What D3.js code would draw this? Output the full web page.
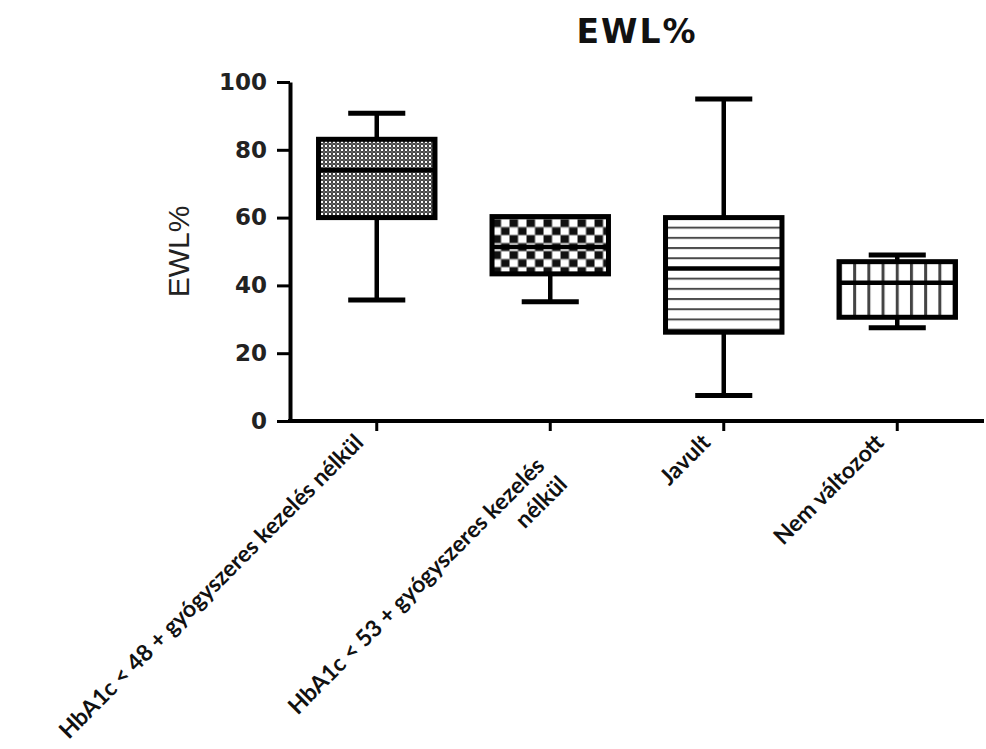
<!DOCTYPE html>
<html>
<head>
<meta charset="utf-8">
<script src="https://cdn.jsdelivr.net/npm/d3@7"></script>
<style>
  html, body { margin: 0; padding: 0; background: #fff; }
  svg { display: block; }
</style>
</head>
<body>
<svg id="chart" width="986" height="749"></svg>
<script>
// ---------- data ----------
const categories = [
  "HbA1c < 48 + gyógyszeres kezelés nélkül",
  "HbA1c < 53 + gyógyszeres kezelés nélkül",
  "Javult",
  "Nem változott"
];
const categoryLabelLines = [
  ["HbA1c < 48 + gyógyszeres kezelés nélkül"],
  ["HbA1c < 53 + gyógyszeres kezelés", "nélkül"],
  ["Javult"],
  ["Nem változott"]
];
const whiskerLow  = [35.7, 35.2, 7.5, 27.5];
const q1Values    = [60.0, 43.4, 26.2, 30.6];
const medianVals  = [74.0, 51.3, 45.0, 40.8];
const q3Values    = [83.1, 60.3, 60.0, 47.0];
const whiskerHigh = [90.8, 60.3, 95.0, 49.0];
const yTickValues = [0, 20, 40, 60, 80, 100];
const chartTitle = "EWL%";
const yAxisTitle = "EWL%";

// ---------- layout ----------
const svg = d3.select("#chart");
const plotLeft = 290, plotRight = 984, plotTop = 82, plotBottom = 421;

const y = d3.scaleLinear().domain([0, 100]).range([plotBottom, plotTop]);
const x = d3.scaleBand().domain(categories).range([plotLeft, plotRight])
  .paddingInner(0.3).paddingOuter(0.15);

// ---------- patterns ----------
const defs = svg.append("defs");
const p1 = defs.append("pattern").attr("id", "pat0").attr("patternUnits", "userSpaceOnUse")
  .attr("width", 4).attr("height", 4);
p1.append("rect").attr("width", 4).attr("height", 4).attr("fill", "#333");
p1.append("circle").attr("cx", 2).attr("cy", 2).attr("r", 1.25).attr("fill", "#ffffff");
p1.append("circle").attr("cx", 0).attr("cy", 0).attr("r", 0.7).attr("fill", "#b0b0b0");
p1.append("circle").attr("cx", 4).attr("cy", 4).attr("r", 0.7).attr("fill", "#b0b0b0");
p1.append("circle").attr("cx", 4).attr("cy", 0).attr("r", 0.7).attr("fill", "#b0b0b0");
p1.append("circle").attr("cx", 0).attr("cy", 4).attr("r", 0.7).attr("fill", "#b0b0b0");
const p2 = defs.append("pattern").attr("id", "pat1").attr("patternUnits", "userSpaceOnUse")
  .attr("width", 17).attr("height", 16).attr("x", x(categories[1]) + 3).attr("y", y(q3Values[1]) + 3);
p2.append("rect").attr("width", 17).attr("height", 16).attr("fill", "#ffffff");
p2.append("rect").attr("x", 0).attr("y", 0).attr("width", 8.5).attr("height", 8).attr("fill", "#111");
p2.append("rect").attr("x", 8.5).attr("y", 8).attr("width", 8.5).attr("height", 8).attr("fill", "#111");
p2.append("rect").attr("x", 0).attr("y", 7).attr("width", 17).attr("height", 1.2).attr("fill", "#888");
p2.append("rect").attr("x", 0).attr("y", 15).attr("width", 17).attr("height", 1.2).attr("fill", "#888");
const p3 = defs.append("pattern").attr("id", "pat2").attr("patternUnits", "userSpaceOnUse")
  .attr("width", 20).attr("height", 10.2).attr("y", y(medianVals[2]) - 1);
p3.append("rect").attr("width", 20).attr("height", 10.2).attr("fill", "#fff");
p3.append("rect").attr("x", 0).attr("y", 0).attr("width", 20).attr("height", 2).attr("fill", "#4a4a4a");
const c4 = x(categories[3]) + x.bandwidth() / 2;
const p4 = defs.append("pattern").attr("id", "pat3").attr("patternUnits", "userSpaceOnUse")
  .attr("width", 14.2).attr("height", 20).attr("x", c4 - 1.5);
p4.append("rect").attr("width", 14.2).attr("height", 20).attr("fill", "#fff");
p4.append("rect").attr("x", 0).attr("y", 0).attr("width", 3).attr("height", 20).attr("fill", "#444");

// ---------- boxes ----------
const boxStroke = 5;
const bw = x.bandwidth();
const capW = bw * 0.47;
const boxes = svg.append("g");
categories.forEach((c, i) => {
  const cx = x(c) + bw / 2;
  const g = boxes.append("g");
  g.append("line").attr("x1", cx).attr("x2", cx)
    .attr("y1", y(whiskerHigh[i])).attr("y2", y(q3Values[i]))
    .attr("stroke", "#000").attr("stroke-width", 4.5);
  g.append("line").attr("x1", cx).attr("x2", cx)
    .attr("y1", y(q1Values[i])).attr("y2", y(whiskerLow[i]))
    .attr("stroke", "#000").attr("stroke-width", 4.5);
  if (whiskerHigh[i] > q3Values[i]) {
    g.append("line").attr("x1", cx - capW / 2).attr("x2", cx + capW / 2)
      .attr("y1", y(whiskerHigh[i])).attr("y2", y(whiskerHigh[i]))
      .attr("stroke", "#000").attr("stroke-width", 5);
  }
  if (whiskerLow[i] < q1Values[i]) {
    g.append("line").attr("x1", cx - capW / 2).attr("x2", cx + capW / 2)
      .attr("y1", y(whiskerLow[i])).attr("y2", y(whiskerLow[i]))
      .attr("stroke", "#000").attr("stroke-width", 5);
  }
  g.append("rect")
    .attr("x", x(c) + boxStroke / 2).attr("width", bw - boxStroke)
    .attr("y", y(q3Values[i])).attr("height", y(q1Values[i]) - y(q3Values[i]))
    .attr("fill", `url(#pat${i})`)
    .attr("stroke", "#000").attr("stroke-width", boxStroke);
  g.append("line").attr("x1", x(c) + boxStroke / 2).attr("x2", x(c) + bw - boxStroke / 2)
    .attr("y1", y(medianVals[i])).attr("y2", y(medianVals[i]))
    .attr("stroke", "#000").attr("stroke-width", 4.5);
});

// ---------- axes ----------
const yAxis = svg.append("g").attr("transform", `translate(${plotLeft},0)`)
  .call(d3.axisLeft(y).tickValues(yTickValues).tickSize(13).tickSizeOuter(0).tickPadding(10));
yAxis.select(".domain").attr("stroke", "#000").attr("stroke-width", 4);
yAxis.selectAll(".tick line").attr("stroke", "#000").attr("stroke-width", 3);
yAxis.selectAll(".tick text")
  .attr("font-family", "'DejaVu Sans', sans-serif").attr("font-weight", "bold")
  .attr("font-size", 23).attr("fill", "#222");

const xAxis = svg.append("g").attr("transform", `translate(0,${plotBottom})`)
  .call(d3.axisBottom(x).tickSize(10).tickSizeOuter(0).tickFormat(""));
xAxis.select(".domain").attr("stroke", "#000").attr("stroke-width", 4)
  .attr("d", `M${plotLeft - 2},0H${plotRight}`);
xAxis.selectAll(".tick line").attr("stroke", "#000").attr("stroke-width", 3);

// ---------- category labels ----------
const labels = svg.append("g");
categories.forEach((c, i) => {
  const lines = categoryLabelLines[i];
  const n = lines.length;
  const t = labels.append("text")
    .attr("transform", `translate(${x(c) + bw / 2 - 12},${plotBottom + 23}) rotate(-45)`)
    .attr("text-anchor", "end")
    .attr("font-family", "Lato, 'Open Sans', sans-serif")
    .attr("font-weight", "bold").attr("font-size", 23).attr("fill", "#111");
  lines.forEach((ln, k) => {
    const sp = t.append("tspan").text(ln);
    if (k === 0) sp.attr("x", -(n - 1) * 11).attr("y", (n - 1) * 22);
    else sp.attr("x", -(n - 1) * 11 + 3).attr("dy", 29);
  });
});

// ---------- titles ----------
svg.append("text").attr("x", 637).attr("y", 43).attr("text-anchor", "middle")
  .attr("font-family", "'DejaVu Sans', sans-serif").attr("font-weight", "bold")
  .attr("font-size", 33).attr("letter-spacing", 2).attr("fill", "#111")
  .text(chartTitle);
svg.append("text").attr("transform", `translate(189,${(plotTop + plotBottom) / 2}) rotate(-90)`)
  .attr("text-anchor", "middle")
  .attr("font-family", "'Liberation Sans', Arial, sans-serif")
  .attr("font-size", 30).attr("fill", "#222")
  .text(yAxisTitle);
</script>
</body>
</html>
